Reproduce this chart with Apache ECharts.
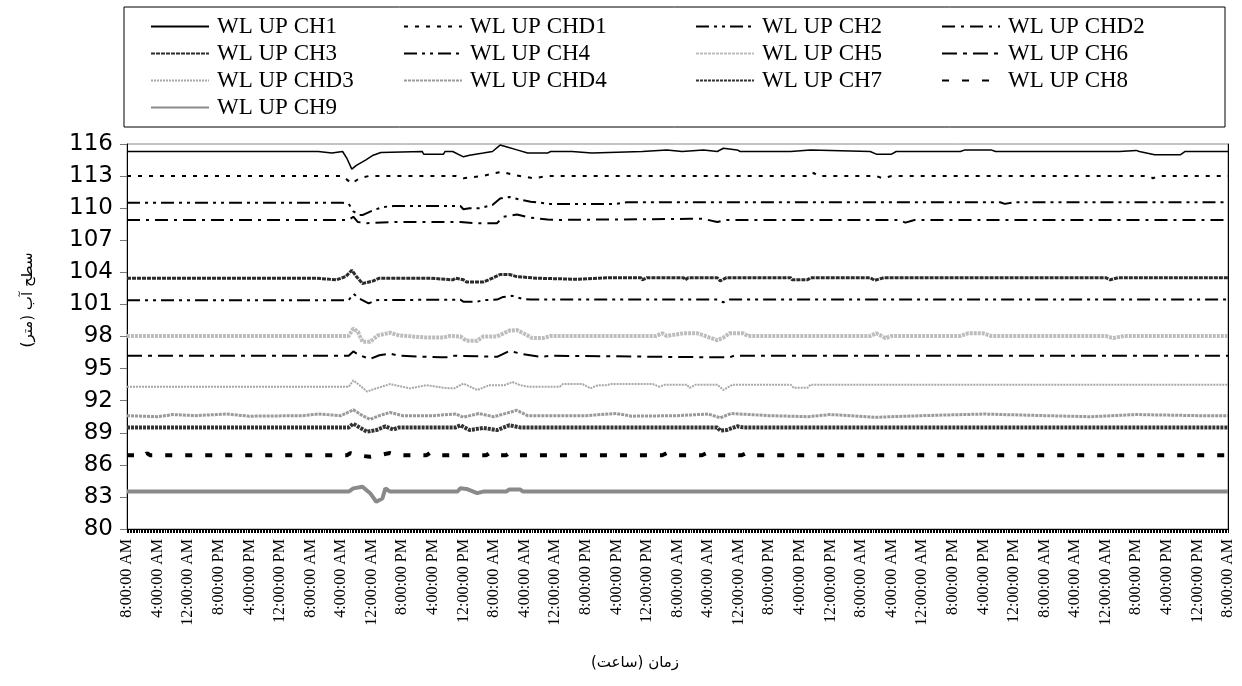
<!DOCTYPE html>
<html>
<head>
<meta charset="utf-8">
<script src="https://cdn.jsdelivr.net/npm/echarts@6/dist/echarts.min.js"></script>
<style>
  html, body { margin: 0; padding: 0; background: #fff; }
  #chart { width: 1242px; height: 686px; }
</style>
</head>
<body>
<div id="chart"></div>
<script>
// hourly readings, 30 days starting 8:00 AM; points are [hour index, level]
const startHour = 8;
const hourCount = 721;

const ch1 = [[0,115.3],[125,115.3],[126,115.15],[134,115.15],[135,115.3],[141,115.3],[144,114.6],[147,113.65],[150,114.0],[156,114.5],[161,114.95],[166,115.2],[193,115.3],[194,115.05],[207,115.05],[208,115.3],[213,115.3],[220,114.8],[224,114.95],[233,115.15],[239,115.3],[244,115.9],[248,115.75],[255,115.45],[262,115.15],[275,115.15],[277,115.3],[291,115.3],[292,115.15],[304,115.15],[305,115.3],[337,115.3],[338,115.45],[353,115.45],[354,115.3],[363,115.3],[364,115.45],[377,115.45],[378,115.3],[386,115.3],[390,115.6],[399,115.45],[401,115.3],[434,115.3],[435,115.45],[447,115.45],[448,115.3],[486,115.3],[490,115.05],[500,115.05],[503,115.3],[545,115.3],[548,115.45],[565,115.45],[568,115.3],[649,115.3],[650,115.4],[660,115.4],[662,115.3],[672,115.0],[689,115.0],[692,115.3],[720,115.3]];
const chd1 = [[0,113.0],[141,113.0],[147,112.3],[152,112.8],[158,113.0],[215,113.0],[220,112.8],[232,113.0],[245,113.4],[253,113.1],[266,112.8],[275,113.0],[447,113.0],[449,113.3],[452,113.0],[490,113.0],[494,112.8],[500,113.0],[668,113.0],[671,112.8],[674,113.0],[720,113.0]];
const ch2 = [[0,110.5],[141,110.5],[145,110.4],[148,109.7],[152,109.35],[154,109.35],[161,109.8],[167,110.1],[174,110.2],[218,110.2],[220,109.9],[224,110.0],[231,110.0],[239,110.3],[244,110.9],[250,111.05],[257,110.8],[264,110.6],[277,110.4],[320,110.4],[327,110.55],[571,110.55],[574,110.4],[580,110.55],[720,110.55]];
const chd2 = [[0,108.9],[145,108.9],[148,109.2],[151,108.7],[157,108.6],[174,108.7],[218,108.7],[228,108.6],[242,108.6],[246,109.2],[255,109.4],[264,109.1],[275,108.95],[280,108.9],[368,109.0],[377,109.0],[386,108.7],[392,108.9],[505,108.9],[509,108.65],[515,108.9],[720,108.9]];
const ch3 = [[0,103.45],[124,103.45],[125,103.3],[137,103.3],[143,103.6],[147,104.2],[150,103.6],[154,102.95],[161,103.2],[165,103.45],[199,103.45],[200,103.3],[213,103.3],[215,103.45],[220,103.3],[222,103.1],[233,103.1],[239,103.45],[244,103.8],[250,103.8],[255,103.6],[268,103.45],[269,103.35],[295,103.35],[296,103.45],[316,103.5],[336,103.5],[337,103.3],[340,103.5],[364,103.5],[365,103.3],[367,103.5],[386,103.5],[388,103.2],[392,103.5],[434,103.5],[435,103.3],[445,103.3],[447,103.5],[486,103.5],[489,103.25],[495,103.5],[640,103.5],[643,103.3],[648,103.5],[720,103.5]];
const ch4 = [[0,101.4],[145,101.4],[148,102.0],[152,101.55],[158,101.1],[163,101.4],[218,101.45],[220,101.25],[229,101.25],[233,101.4],[242,101.45],[246,101.7],[252,101.8],[259,101.5],[264,101.45],[386,101.45],[390,101.2],[394,101.45],[720,101.45]];
const ch5 = [[0,98.05],[145,98.05],[148,98.75],[151,98.45],[154,97.5],[159,97.5],[164,98.1],[172,98.35],[178,98.1],[196,97.9],[207,97.9],[211,98.05],[218,98.0],[222,97.6],[229,97.6],[233,98.0],[242,98.0],[250,98.55],[255,98.6],[262,98.1],[265,97.85],[272,97.85],[277,98.05],[346,98.05],[350,98.3],[353,98.05],[364,98.3],[373,98.3],[378,98.05],[386,97.65],[390,97.9],[394,98.3],[403,98.3],[406,98.05],[486,98.05],[490,98.3],[496,97.85],[500,98.05],[545,98.05],[550,98.3],[560,98.3],[565,98.05],[640,98.05],[645,97.85],[652,98.05],[720,98.05]];
const ch6 = [[0,96.2],[145,96.2],[148,96.6],[152,96.25],[159,95.9],[165,96.25],[172,96.4],[178,96.2],[205,96.05],[211,96.05],[214,96.2],[242,96.1],[250,96.65],[259,96.35],[270,96.1],[278,96.2],[386,96.05],[394,96.05],[397,96.2],[720,96.2]];
const chd3 = [[0,93.3],[145,93.3],[148,93.9],[152,93.45],[157,92.85],[163,93.15],[172,93.55],[185,93.15],[196,93.45],[207,93.2],[214,93.15],[220,93.6],[229,93.0],[237,93.45],[247,93.45],[252,93.75],[257,93.45],[263,93.3],[283,93.3],[285,93.55],[298,93.55],[303,93.15],[308,93.45],[314,93.45],[316,93.55],[344,93.55],[348,93.3],[352,93.5],[366,93.5],[368,93.2],[372,93.5],[386,93.5],[390,93.0],[396,93.5],[434,93.5],[436,93.2],[445,93.2],[447,93.5],[720,93.5]];
const chd4 = [[0,90.6],[20,90.5],[30,90.7],[45,90.6],[65,90.75],[80,90.55],[115,90.6],[125,90.75],[140,90.6],[148,91.15],[154,90.6],[159,90.25],[165,90.6],[172,90.9],[180,90.6],[200,90.6],[215,90.75],[220,90.45],[230,90.8],[240,90.5],[255,91.1],[262,90.6],[300,90.6],[320,90.8],[330,90.55],[360,90.6],[380,90.75],[388,90.4],[395,90.8],[420,90.6],[445,90.5],[460,90.7],[490,90.45],[520,90.6],[560,90.75],[600,90.6],[630,90.5],[660,90.7],[700,90.6],[720,90.6]];
const ch7 = [[0,89.5],[145,89.5],[148,89.85],[152,89.5],[157,89.1],[163,89.25],[169,89.6],[174,89.3],[178,89.5],[215,89.5],[218,89.7],[224,89.25],[233,89.45],[242,89.25],[250,89.7],[257,89.5],[386,89.5],[388,89.2],[392,89.25],[399,89.6],[403,89.5],[720,89.5]];
const ch8 = [[0,86.9],[12,86.9],[13,87.1],[15,86.9],[144,86.9],[146,87.1],[150,86.9],[159,86.75],[165,86.9],[172,87.1],[176,86.9],[196,86.9],[198,87.1],[201,86.9],[235,86.9],[237,87.1],[240,86.9],[248,86.9],[250,87.1],[253,86.9],[350,86.9],[353,87.1],[357,86.9],[376,86.9],[379,87.1],[382,86.9],[402,86.9],[405,87.1],[408,86.9],[720,86.9]];
const ch9 = [[0,83.5],[145,83.5],[148,83.8],[154,83.95],[159,83.35],[163,82.55],[167,82.85],[169,83.8],[172,83.5],[216,83.5],[218,83.8],[222,83.75],[229,83.35],[233,83.5],[248,83.5],[250,83.7],[257,83.7],[259,83.5],[720,83.5]];

const hourLabel = function (i) {
  const h = (startHour + i) % 24;
  const h12 = h % 12 === 0 ? 12 : h % 12;
  return h12 + ':00:00 ' + (h < 12 ? 'AM' : 'PM');
};
const categories = Array.from({ length: hourCount }, (_, i) => hourLabel(i));

const lines = [
  { name: 'WL UP CH1', data: ch1, color: '#000', width: 1.5, type: 'solid' },
  { name: 'WL UP CHD1', data: chd1, color: '#000', width: 2, type: [4, 7] },
  { name: 'WL UP CH2', data: ch2, color: '#000', width: 2, type: [13, 5, 3, 5, 3, 5] },
  { name: 'WL UP CHD2', data: chd2, color: '#000', width: 2, type: [13, 6, 3, 6] },
  { name: 'WL UP CH3', data: ch3, color: '#2b2b2b', width: 3, type: [4, 1] },
  { name: 'WL UP CH4', data: ch4, color: '#000', width: 2, type: [13, 5, 3, 5, 3, 5] },
  { name: 'WL UP CH5', data: ch5, color: '#bdbdbd', width: 4, type: [3, 1] },
  { name: 'WL UP CH6', data: ch6, color: '#000', width: 2, type: [15, 6, 4, 6] },
  { name: 'WL UP CHD3', data: chd3, color: '#a8a8a8', width: 2, type: [2, 1] },
  { name: 'WL UP CHD4', data: chd4, color: '#9a9a9a', width: 3, type: [3, 1] },
  { name: 'WL UP CH7', data: ch7, color: '#333', width: 4, type: [3, 1] },
  { name: 'WL UP CH8', data: ch8, color: '#000', width: 4, type: [7, 13] },
  { name: 'WL UP CH9', data: ch9, color: '#8a8a8a', width: 4, type: 'solid' },
];

const legendColumns = [
  { left: 150, names: ['WL UP CH1', 'WL UP CH3', 'WL UP CHD3', 'WL UP CH9'] },
  { left: 403, names: ['WL UP CHD1', 'WL UP CH4', 'WL UP CHD4'] },
  { left: 695, names: ['WL UP CH2', 'WL UP CH5', 'WL UP CH7'] },
  { left: 941, names: ['WL UP CHD2', 'WL UP CH6', 'WL UP CH8'] },
];

const myChart = echarts.init(document.getElementById('chart'));
let option = {};

option = {
  animation: false,
  backgroundColor: '#fff',
  legend: legendColumns.map((col) => ({
    left: col.left,
    top: 13,
    orient: 'vertical',
    padding: 0,
    itemGap: 0,
    itemWidth: 58,
    itemHeight: 14,
    selectedMode: false,
    data: col.names,
    itemStyle: { opacity: 0 },
    textStyle: {
      fontFamily: 'Liberation Serif',
      fontSize: 23,
      lineHeight: 27,
      color: '#000',
      padding: [0, 0, 0, 3],
    },
  })),
  grid: {
    left: 127,
    right: 14,
    top: 144,
    bottom: 157,
    show: true,
    borderColor: '#888',
    borderWidth: 1,
  },
  xAxis: {
    type: 'category',
    data: categories,
    boundaryGap: false,
    axisLine: { lineStyle: { color: '#000', width: 1 } },
    axisTick: { interval: 0, length: 4, lineStyle: { color: '#000' } },
    axisLabel: {
      interval: 19,
      rotate: 90,
      margin: 10,
      fontFamily: 'Liberation Serif',
      fontSize: 16,
      color: '#000',
    },
  },
  yAxis: [
    {
      type: 'value',
      min: 80,
      max: 116,
      interval: 3,
      axisLine: { show: true, lineStyle: { color: '#000' } },
      axisTick: { show: true, length: 7, lineStyle: { color: '#777' } },
      splitLine: { show: false },
      axisLabel: {
        margin: 14,
        fontFamily: 'DejaVu Sans',
        fontSize: 23,
        color: '#000',
      },
    },
    {
      type: 'value',
      position: 'right',
      min: 80,
      max: 116,
      interval: 3,
      axisLine: { show: true, lineStyle: { color: '#000' } },
      axisTick: { show: false },
      axisLabel: { show: false },
      splitLine: { show: false },
    },
  ],
  graphic: [
    {
      type: 'rect',
      shape: { x: 124, y: 7, width: 1101, height: 120 },
      style: { fill: 'none', stroke: '#000', lineWidth: 1 },
    },
    {
      type: 'text',
      x: 635,
      y: 663,
      style: {
        text: 'زمان (ساعت)\u200F',
        align: 'center',
        verticalAlign: 'middle',
        fontFamily: 'DejaVu Sans',
        fontSize: 15,
        fill: '#000',
      },
    },
    {
      type: 'text',
      x: 28,
      y: 300,
      rotation: Math.PI / 2,
      style: {
        text: 'سطح آب (متر)\u200F',
        align: 'center',
        verticalAlign: 'middle',
        fontFamily: 'DejaVu Sans',
        fontSize: 15,
        fill: '#000',
      },
    },
  ],
  series: lines.map((s) => ({
    type: 'line',
    name: s.name,
    data: s.data,
    symbol: 'none',
    silent: true,
    color: s.color,
    lineStyle: { color: s.color, width: s.width, type: s.type },
  })),
};

option && myChart.setOption(option);
</script>
</body>
</html>
